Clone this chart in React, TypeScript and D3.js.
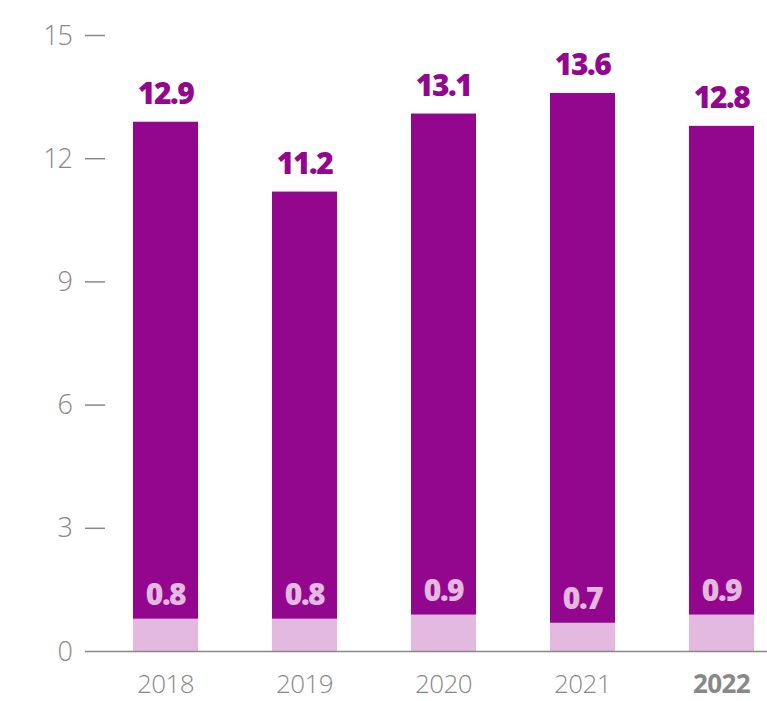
import React from "react";
import * as d3 from "d3";

const years = ["2018", "2019", "2020", "2021", "2022"];
const totals = [12.9, 11.2, 13.1, 13.6, 12.8];
const parts = [0.8, 0.8, 0.9, 0.7, 0.9];
const yTicks = [0, 3, 6, 9, 12, 15];

const W = 767, H = 701;
const DARK = "#93078F";
const LIGHT = "#E3B9DF";
const GRAY = "#888888";

export default function App() {
  const y = d3.scaleLinear().domain([0, 15]).range([651.5, 35.5]);
  const x = d3.scaleBand().domain(years).range([96, 791]).paddingInner(74 / 139).paddingOuter(37 / 139);
  const bw = x.bandwidth();
  return (
    <svg width={W} height={H} style={{ position: "absolute", left: 0, top: 0, fontFamily: "'Open Sans', sans-serif" }}>
      {yTicks.map((t) => (
        <g key={t}>
          <text x={72} y={y(t) + 9} textAnchor="end" fontSize={27} fill={GRAY} fontWeight={300} letterSpacing={-1}>{t}</text>
          {t !== 0 && <line x1={85} x2={105} y1={y(t)} y2={y(t)} stroke={GRAY} strokeWidth={1.5} />}
        </g>
      ))}
      {years.map((yr, i) => {
        const bx = x(yr) as number;
        return (
          <g key={yr}>
            <rect x={bx} y={y(totals[i])} width={bw} height={y(0) - y(totals[i])} fill={DARK} />
            <rect x={bx} y={y(parts[i])} width={bw} height={y(0) - y(parts[i])} fill={LIGHT} />
            <text x={bx + bw / 2} y={y(totals[i]) - 18} textAnchor="middle" fontSize={30} fontWeight={800} fill={DARK} letterSpacing={-1.5}>{totals[i].toFixed(1)}</text>
            <text x={bx + bw / 2} y={y(parts[i]) - 14} textAnchor="middle" fontSize={30} fontWeight={800} fill={LIGHT} letterSpacing={-1.5}>{parts[i].toFixed(1)}</text>
            <text x={bx + bw / 2} y={693} textAnchor="middle" fontSize={26} fontWeight={i === 4 ? 700 : 300} fill={GRAY} letterSpacing={-0.6}>{yr}</text>
          </g>
        );
      })}
      <line x1={85} x2={767} y1={y(0)} y2={y(0)} stroke={GRAY} strokeWidth={1.5} />
    </svg>
  );
}
